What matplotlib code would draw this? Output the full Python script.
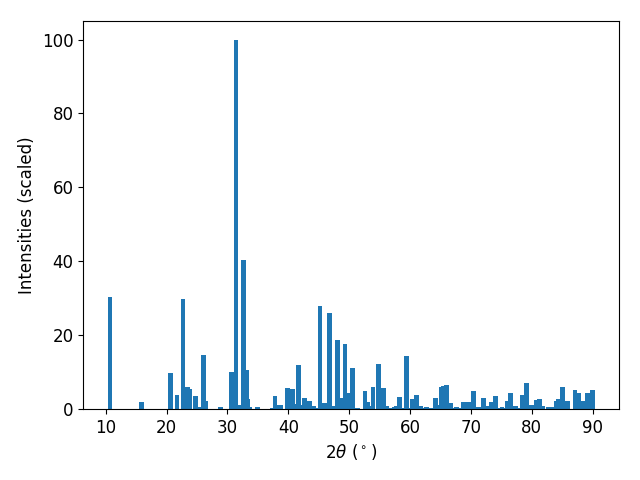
import matplotlib
matplotlib.use('agg')
import matplotlib.pyplot as plt

# Posiciones de los picos (2theta) e intensidades relativas
two_theta = [10.7, 15.9, 20.6, 21.7, 22.7, 23.4, 23.7, 24.7, 25.4, 26.0,
             26.4, 28.9, 30.6, 31.4, 31.9, 32.7, 33.1, 33.3, 33.6, 35.0,
             37.4, 37.8, 38.3, 38.8, 39.9, 40.7, 41.1, 41.7, 42.1, 42.7,
             43.5, 44.2, 44.7, 45.2, 46.0, 46.3, 46.8, 47.3, 47.5, 48.1,
             48.5, 49.3, 49.6, 50.0, 50.6, 51.3, 52.6, 53.0, 53.2, 53.9,
             54.8, 55.6, 56.2, 57.0, 57.4, 57.7, 58.3, 58.7, 59.4, 59.9,
             60.4, 61.0, 61.7, 62.1, 62.7, 63.3, 64.2, 64.7, 65.2, 65.5,
             66.0, 66.6, 67.0, 67.6, 68.2, 68.8, 69.6, 70.4, 71.0, 71.3,
             72.0, 72.9, 73.4, 74.0, 74.7, 75.1, 75.7, 76.0, 76.5, 77.3,
             77.9, 78.4, 79.1, 79.9, 80.3, 80.7, 81.2, 81.7, 82.8, 83.5,
             84.0, 84.3, 85.0, 85.6, 85.9, 87.1, 87.7, 88.4, 89.2, 89.9]
intensities = [30.3, 1.9, 9.7, 3.8, 29.8, 6.0, 5.4, 3.5, 0.5, 14.6,
               2.1, 0.5, 10.1, 100.0, 1.1, 40.3, 10.5, 2.7, 0.6, 0.6,
               0.3, 3.5, 1.1, 1.1, 5.7, 5.4, 1.4, 11.9, 1.0, 3.0,
               2.2, 0.8, 0.3, 27.9, 1.6, 1.4, 26.0, 0.3, 0.8, 18.7,
               3.0, 17.6, 1.6, 4.4, 11.1, 0.3, 4.9, 1.9, 0.8, 6.0,
               12.2, 5.7, 0.8, 0.3, 0.5, 0.8, 3.3, 0.3, 14.4, 0.3,
               2.7, 3.8, 0.8, 0.3, 0.5, 0.3, 3.0, 1.1, 6.0, 6.2,
               6.5, 1.6, 0.3, 0.5, 0.3, 1.9, 1.9, 4.9, 0.5, 0.5,
               3.0, 0.8, 1.9, 3.5, 0.3, 0.5, 0.3, 2.2, 4.4, 0.8,
               0.3, 3.8, 7.0, 1.1, 0.3, 2.4, 2.7, 0.8, 0.5, 0.5,
               2.2, 2.7, 6.0, 0.3, 2.2, 5.1, 4.4, 2.2, 4.4, 5.1]

plt.rcParams['font.size'] = 12

fig, ax = plt.subplots(figsize=(6.4, 4.8), dpi=100)
ax.bar(two_theta, intensities, width=0.8)
ax.set_xlabel(r"$2\theta$ ($^\circ$)")
ax.set_ylabel("Intensities (scaled)")
fig.subplots_adjust(left=0.13, right=0.967, top=0.956, bottom=0.148)
fig.savefig('out.png')
